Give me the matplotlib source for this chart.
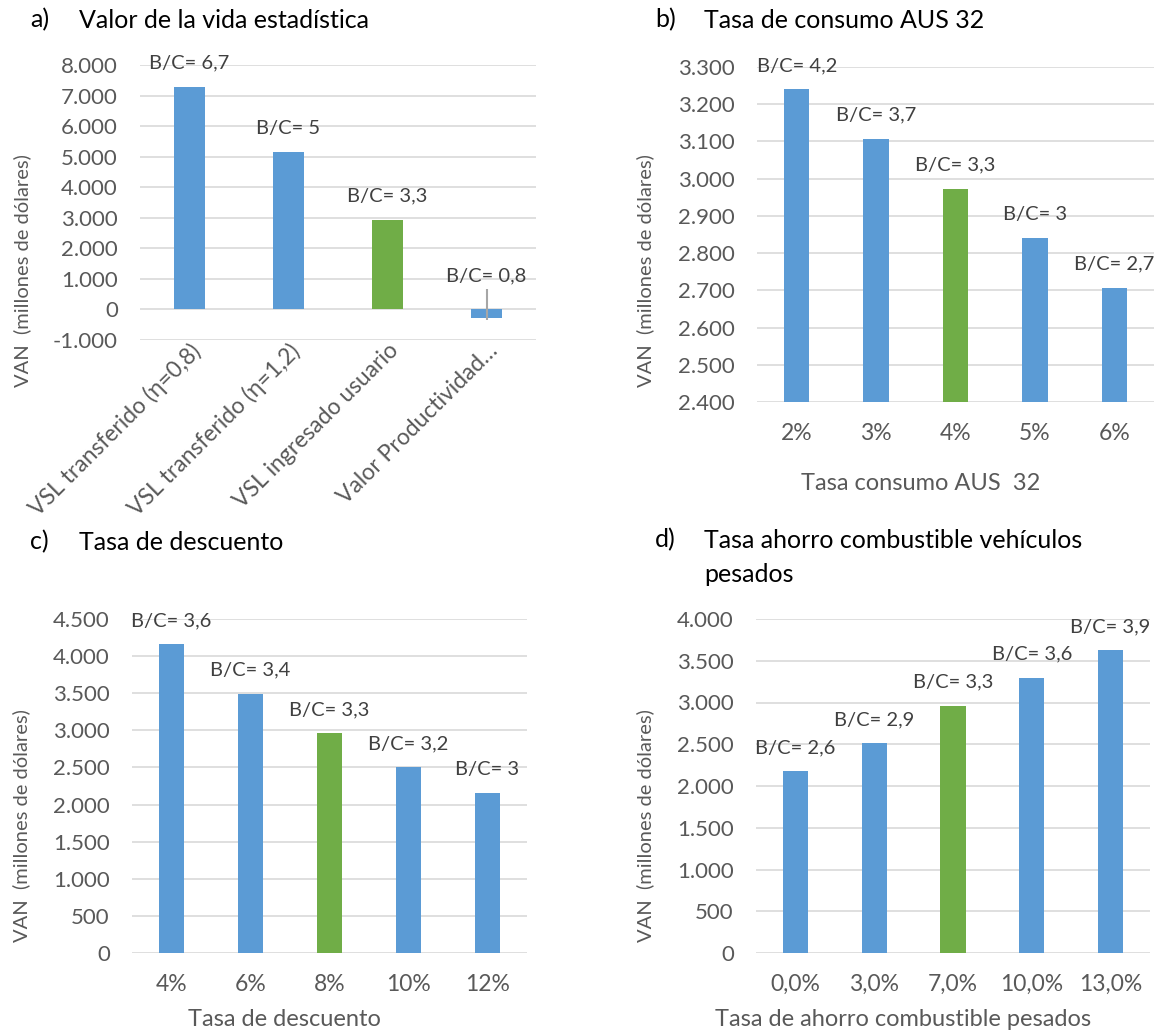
import matplotlib
matplotlib.use("Agg")
import matplotlib.pyplot as plt
from matplotlib.ticker import FuncFormatter, MultipleLocator

plt.rcParams['font.family'] = ['Lato', 'DejaVu Sans']

# a) Valor de la vida estadística
a_cats = ["VSL transferido (η=0,8)", "VSL transferido (η=1,2)",
          "VSL ingresado usuario", "Valor Productividad…"]
a_van = [7290, 5150, 2940, -295]
a_bc = ["B/C= 6,7", "B/C= 5", "B/C= 3,3", "B/C= 0,8"]
a_err_low = [0, 0, 0, 35]
a_err_high = [0, 0, 0, 955]

# b) Tasa de consumo AUS 32
b_cats = ["2%", "3%", "4%", "5%", "6%"]
b_van = [3241, 3107, 2973, 2840, 2707]
b_bc = ["B/C= 4,2", "B/C= 3,7", "B/C= 3,3", "B/C= 3", "B/C= 2,7"]

# c) Tasa de descuento
c_cats = ["4%", "6%", "8%", "10%", "12%"]
c_van = [4163, 3495, 2965, 2503, 2153]
c_bc = ["B/C= 3,6", "B/C= 3,4", "B/C= 3,3", "B/C= 3,2", "B/C= 3"]

# d) Tasa ahorro combustible vehículos pesados
d_cats = ["0,0%", "3,0%", "7,0%", "10,0%", "13,0%"]
d_van = [2177, 2512, 2963, 3298, 3629]
d_bc = ["B/C= 2,6", "B/C= 2,9", "B/C= 3,3", "B/C= 3,6", "B/C= 3,9"]

BLUE = "#5B9BD5"
GREEN = "#70AD47"
GRID = "#D9D9D9"
TICK = "#595959"
LABEL = "#404040"
BASE_IDX = 2  # escenario base resaltado en verde

W, H = 1162, 1036
fig = plt.figure(figsize=(W / 100, H / 100), dpi=100)


def px(x, y):
    return x / W, 1 - y / H


def make_axes(left, right, top, bottom):
    return fig.add_axes([left / W, 1 - bottom / H, (right - left) / W, (bottom - top) / H])


def miles(v, pos):
    return f"{v:,.0f}".replace(",", ".")


def draw(ax, cats, vals, bcs, ylim, step, rot=False, err=None):
    colors = [GREEN if i == BASE_IDX else BLUE for i in range(len(cats))]
    x = range(len(cats))
    ax.bar(x, vals, width=0.32, color=colors, zorder=3)
    if err is not None:
        ax.errorbar(x, vals, yerr=err, fmt="none", ecolor="#A6A6A6",
                    elinewidth=1.5, capsize=0, zorder=4)
    ax.set_xlim(-0.5, len(cats) - 0.5)
    ax.set_ylim(*ylim)
    ax.yaxis.set_major_locator(MultipleLocator(step))
    ax.yaxis.set_major_formatter(FuncFormatter(miles))
    ax.grid(axis="y", color=GRID, linewidth=1.2, zorder=0)
    ax.set_axisbelow(True)
    for s in ax.spines.values():
        s.set_visible(False)
    ax.tick_params(length=0, labelcolor=TICK)
    ax.tick_params(axis="y", pad=16, labelsize=16)
    ax.set_xticks(list(x))
    if rot:
        ax.set_xticklabels(cats, rotation=45, ha="right", va="top",
                           rotation_mode="anchor")
        ax.tick_params(axis="x", pad=0, labelsize=16.5)
    else:
        ax.set_xticklabels(cats)
        ax.tick_params(axis="x", pad=15, labelsize=16.5)
    for i, (v, t) in enumerate(zip(vals, bcs)):
        anchor = max(v, ylim[0] if ylim[0] > 0 else 0)
        off = 13 if v > 0 else 20
        ax.annotate(t, (i, anchor), xytext=(0, off), textcoords="offset points",
                    ha="center", va="baseline", fontsize=14.5, color=LABEL,
                    annotation_clip=False, zorder=5)


ax_a = make_axes(140, 536, 65, 340)
draw(ax_a, a_cats, a_van, a_bc, (-1000, 8000), 1000, rot=True,
     err=[a_err_low, a_err_high])

ax_b = make_axes(757, 1154, 67, 402)
draw(ax_b, b_cats, b_van, b_bc, (2400, 3300), 100)

ax_c = make_axes(132, 527, 619, 953)
draw(ax_c, c_cats, c_van, c_bc, (0, 4500), 500)

ax_d = make_axes(756, 1150, 619, 953)
draw(ax_d, d_cats, d_van, d_bc, (0, 4000), 500)

# títulos de los paneles
titles = [("a)", "Valor de la vida estadística", 30, 79, 20),
          ("b)", "Tasa de consumo AUS 32", 655, 704, 20),
          ("c)", "Tasa de descuento", 30, 79, 542),
          ("d)", "Tasa ahorro combustible vehículos", 655, 704, 540)]
for letter, text, xl, xt, y in titles:
    fig.text(*px(xl, y), letter, fontsize=18, color="black", va="center")
    fig.text(*px(xt, y), text, fontsize=18, color="black", va="center")
fig.text(*px(704, 574), "pesados", fontsize=18, color="black", va="center")

# ejes
ylab = "VAN  (millones de dólares)"
for ax, (x, y) in [(ax_a, (22, 271)), (ax_b, (645, 271)),
                   (ax_c, (21, 826)), (ax_d, (645, 826))]:
    ax.set_ylabel(ylab, fontsize=14.5, color=TICK, va="center")
    ax.yaxis.set_label_coords(*px(x, y), transform=fig.transFigure)

for ax, text, (x, y) in [(ax_b, "Tasa consumo AUS  32", (921, 483)),
                         (ax_c, "Tasa de descuento", (284, 1020)),
                         (ax_d, "Tasa de ahorro combustible pesados", (903, 1020))]:
    ax.set_xlabel(text, fontsize=17, color=TICK, va="center")
    ax.xaxis.set_label_coords(*px(x, y), transform=fig.transFigure)

fig.savefig("out.png", dpi=100, facecolor="white")
